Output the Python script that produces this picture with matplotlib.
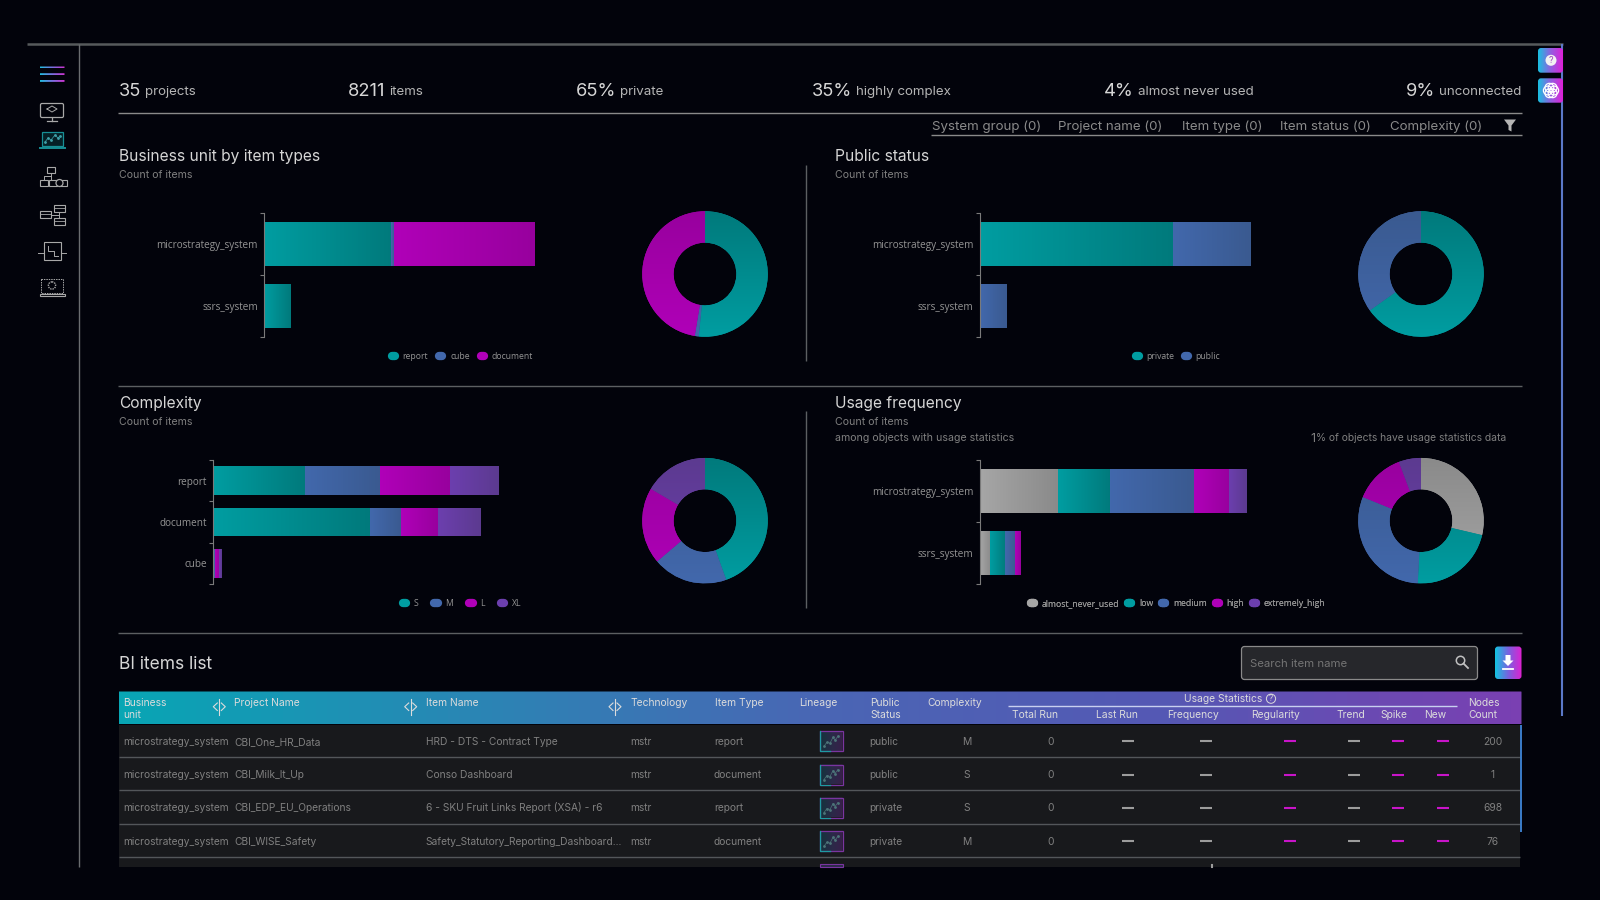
import matplotlib
matplotlib.use('Agg')
import matplotlib.pyplot as plt
import numpy as np
from matplotlib.colors import LinearSegmentedColormap
from matplotlib.lines import Line2D
from matplotlib.patches import Circle, FancyBboxPatch, Polygon, Rectangle

plt.rcParams['font.family'] = ['Inter', 'DejaVu Sans']

# data
kpi_values = ['35', '8211', '65%', '35%', '4%', '9%']
kpi_labels = ['projects', 'items', 'private', 'highly complex', 'almost never used', 'unconnected']
filter_names = ['System group (0)', 'Project name (0)', 'Item type (0)', 'Item status (0)', 'Complexity (0)']

systems = ['microstrategy_system', 'ssrs_system']
item_types = ['report', 'cube', 'document']
items_by_type = [[3505, 83, 3891], [731, 0, 0]]

public_names = ['private', 'public']
items_by_public = [[5350, 2130], [0, 731]]

type_cats = ['report', 'document', 'cube']
complexity_names = ['S', 'M', 'L', 'XL']
items_by_complexity = [[1347, 1104, 1019, 713], [2293, 464, 537, 615], [15, 15, 59, 30]]

usage_names = ['almost_never_used', 'low', 'medium', 'high', 'extremely_high']
items_by_usage = [[31, 21, 33, 14, 7], [4, 6, 4, 2, 0]]

table_business = ['microstrategy_system'] * 4
table_project = ['CBI_One_HR_Data', 'CBI_Milk_It_Up', 'CBI_EDP_EU_Operations', 'CBI_WISE_Safety']
table_item = ['HRD - DTS - Contract Type', 'Conso Dashboard', '6 - SKU Fruit Links Report (XSA) - r6',
              'Safety_Statutory_Reporting_Dashboard...']
table_tech = ['mstr'] * 4
table_type = ['report', 'document', 'report', 'document']
table_public = ['public', 'public', 'private', 'private']
table_complexity = ['M', 'S', 'S', 'M']
table_runs = ['0', '0', '0', '0']
table_nodes = ['200', '1', '698', '76']

BG = '#02030b'
TEAL = ('#009da1', '#007a7c')
BLUE = ('#4268ac', '#3a5a90')
MAGENTA = ('#b000b8', '#98009e')
PURPLE = ('#6c3fae', '#5c3a90')
GREY = ('#a6a6a6', '#8a8a8a')
TITLE_C = '#d6d6d6'
SUB_C = '#808080'
LABEL_C = '#949494'
CELL_C = '#808080'
LINE_C = '#5c5f62'

W, H = 1600, 900
fig = plt.figure(figsize=(16, 9), dpi=100, facecolor=BG)
ov = fig.add_axes([0, 0, 1, 1], zorder=0)
ov.set_axis_off()
ov.set_xlim(0, W)
ov.set_ylim(H, 0)


def pane(x0, y0, x1, y1):
    return fig.add_axes([x0 / W, 1 - y1 / H, (x1 - x0) / W, (y1 - y0) / H], facecolor='none', zorder=2)


def ramp(c1, c2):
    return LinearSegmentedColormap.from_list('r', [c1, c2])


def stacked(box, cats, names, rows, styles, bar_h):
    ax = pane(*box)
    rows = np.array(rows, dtype=float)
    left = np.zeros(len(cats))
    y = np.arange(len(cats))
    for i, name in enumerate(names):
        bars = ax.barh(y, rows[:, i], left=left, height=bar_h, color=styles[i][0], linewidth=0)
        for b in bars:
            if b.get_width() <= 0:
                continue
            e = b.get_bbox()
            im = ax.imshow(np.linspace(0, 1, 64).reshape(1, -1), extent=(e.x0, e.x1, e.y0, e.y1),
                           aspect='auto', cmap=ramp(*styles[i]), zorder=2)
            im.set_clip_path(b)
        left += rows[:, i]
    ax.set_xlim(0, left.max())
    ax.set_ylim(len(cats) - 0.5, -0.5)
    for s in ['top', 'right', 'bottom']:
        ax.spines[s].set_visible(False)
    ax.spines['left'].set_color('#7a7a7a')
    ax.spines['left'].set_linewidth(0.8)
    ax.set_xticks([])
    ax.set_yticks(np.arange(len(cats) + 1) - 0.5)
    ax.set_yticklabels([])
    ax.tick_params(axis='y', which='major', length=3, width=0.8, color='#7a7a7a')
    ax.set_yticks(y, minor=True)
    ax.set_yticklabels(cats, minor=True, fontsize=7.2, color=LABEL_C, family='Open Sans')
    ax.tick_params(axis='y', which='minor', length=0, pad=4.5)
    return ax


def donut(cx, cy, values, styles, d=125.5):
    ax = pane(cx - d / 2, cy - d / 2, cx + d / 2, cy + d / 2)
    wedges, _ = ax.pie(values, startangle=90, counterclock=False, radius=1, colors=[st[0] for st in styles],
                       wedgeprops=dict(width=0.5, linewidth=0))
    for w, st in zip(wedges, styles):
        im = ax.imshow(np.linspace(1, 0, 64).reshape(-1, 1), extent=(-1, 1, -1, 1), cmap=ramp(*st), zorder=2)
        im.set_clip_path(w)
    ax.set_xlim(-1, 1)
    ax.set_ylim(-1, 1)
    ax.set_aspect('equal')
    return ax


def pill_legend(cx, cy, names, styles, gap=1.0):
    handles = [Line2D([0], [0], color=st[0], lw=6, solid_capstyle='round') for st in styles]
    leg = ov.legend(handles, names, loc='center', bbox_to_anchor=(cx / W, 1 - cy / H), bbox_transform=fig.transFigure,
                    ncols=len(names), frameon=False, labelcolor=LABEL_C, handlelength=0.35,
                    handletextpad=0.9, columnspacing=gap, prop={'family': 'Open Sans', 'size': 6.2})
    return leg


def grad_box(x0, y0, x1, y1, colors, r=3, edge=None):
    p = FancyBboxPatch((x0 + r, y0 + r), x1 - x0 - 2 * r, y1 - y0 - 2 * r, boxstyle=f'round,pad={r},rounding_size={r}',
                       fc='none', ec=edge or 'none', lw=0.8, zorder=3)
    ov.add_patch(p)
    im = ov.imshow(np.linspace(0, 1, 128).reshape(1, -1), extent=(x0, x1, y1, y0), aspect='auto',
                   cmap=LinearSegmentedColormap.from_list('g', colors), zorder=2)
    im.set_clip_path(p)


def hline(y, x0=118, x1=1521.5, c=LINE_C, lw=1.0):
    ov.plot([x0, x1], [y, y], color=c, lw=lw, solid_capstyle='butt')


def vline(x, y0, y1, c=LINE_C, lw=1.0):
    ov.plot([x, x], [y0, y1], color=c, lw=lw, solid_capstyle='butt')


def txt(x, y, s, size=8, c=CELL_C, ha='left', family='Inter'):
    # baseline placed from the size so that a row of labels keeps one line
    return ov.text(x, y + 0.34 * size * 100 / 72, s, fontsize=size, color=c, ha=ha, va='baseline', family=family)


# frame
hline(44, 27, 1563, '#565a5c', 1.8)
vline(78.5, 44, 867, '#6a6d70', 1.0)
vline(1562, 44, 716, '#5b78c8', 1.5)

# kpi row
kpi_x = [118.5, 348, 575.5, 812, 1104, 1406]
fig.canvas.draw()
rend = fig.canvas.get_renderer()
for x, v, lab in zip(kpi_x, kpi_values, kpi_labels):
    t = txt(x, 89.5, v, 13.2, TITLE_C)
    bb = t.get_window_extent(rend)
    txt(bb.x1 + 4, 90.5, lab, 9.6, '#b5b5b5')
hline(113, c='#8a8a8a')
hline(135, 931, c='#8a8a8a')
for x, s in zip([931.5, 1058, 1181.5, 1280.5, 1390], filter_names):
    txt(x, 125.5, s, 9.6, '#8a8a8a')
ov.add_patch(Polygon([(1504, 119.5), (1516, 119.5), (1511.5, 125.5), (1511.5, 131.5), (1508.5, 130), (1508.5, 125.5)],
                     fc='#b5b5b5', ec='none'))

# chart headings
heads = [(119, 156, 'Business unit by item types'), (835, 156, 'Public status'),
         (119, 403, 'Complexity'), (835, 403, 'Usage frequency')]
for x, y, s in heads:
    txt(x, y, s, 11.2, TITLE_C)
    txt(x, y + 18, 'Count of items', 7.6, SUB_C)
txt(835, 437.5, 'among objects with usage statistics', 7.6, SUB_C)
txt(1310, 437.5, '1', 9, SUB_C)
txt(1316, 437.5, '% of objects have usage statistics data', 7.4, SUB_C)
vline(806, 165, 361)
vline(806, 411, 608)
hline(386)
hline(632.5)

# charts
type_st = [TEAL, BLUE, MAGENTA]
pub_st = [TEAL, BLUE]
cx_st = [TEAL, BLUE, MAGENTA, PURPLE]
use_st = [GREY, TEAL, BLUE, MAGENTA, PURPLE]
stacked((264, 213, 535, 337), systems, item_types, items_by_type, type_st, 0.7)
stacked((979.5, 213, 1250.5, 337), systems, public_names, items_by_public, pub_st, 0.7)
stacked((213, 460, 498.7, 584), type_cats, complexity_names, items_by_complexity, cx_st, 0.69)
stacked((979.5, 460, 1246.5, 584), systems, usage_names, items_by_usage, use_st, 0.7)
donut(705, 274, np.sum(items_by_type, axis=0), type_st)
donut(1421, 274, np.sum(items_by_public, axis=0), pub_st)
donut(705, 520.7, np.sum(items_by_complexity, axis=0), cx_st)
donut(1421, 520.7, np.sum(items_by_usage, axis=0), use_st)

# only one legend per axes call survives, so keep them as artists
legs = [pill_legend(462.5, 356.5, item_types, type_st, 1.3), pill_legend(1178, 356.5, public_names, pub_st, 1.2),
        pill_legend(462, 603.5, complexity_names, cx_st, 1.9), pill_legend(1178, 603.5, usage_names, use_st, 1.05)]
for lg in legs:
    ov.add_artist(lg)

# table area
txt(119, 663, 'BI items list', 12.5, TITLE_C)
ov.add_patch(FancyBboxPatch((1244.5, 649.5), 230, 27, boxstyle='round,pad=3,rounding_size=3', fc='#26272b', ec='#8a8a8a', lw=0.9))
txt(1250, 663, 'Search item name', 8.2, '#747474')
ov.add_patch(Circle((1460.5, 660.5), 4.2, fc='none', ec='#c0c0c0', lw=1.1))
ov.plot([1463.5, 1468], [663.5, 668], color='#c0c0c0', lw=1.3)
grad_box(1495, 646.5, 1521.5, 679, ['#12c4e0', '#7a60e0', '#e020d0'])
ov.add_patch(Polygon([(1505.5, 655), (1510.5, 655), (1510.5, 660.5), (1513.5, 660.5), (1508, 666), (1502.5, 660.5), (1505.5, 660.5)], fc='white', ec='none', zorder=4))
ov.plot([1503, 1513], [669, 669], color='white', lw=1.3, zorder=4)

# table header
grad_box(118.5, 691.5, 1521.5, 724.5, ['#08a6b4', '#2a86b4', '#4a66b4', '#5558b4', '#7a40b2'], r=0.5)
hc = '#dcdcdc'
head_cols = [(123, ['Business', 'unit']), (234.5, ['Project Name']), (426, ['Item Name']), (630, ['Technology']),
             (715, ['Item Type']), (799.5, ['Lineage']), (870, ['Public', 'Status']), (927.5, ['Complexity']),
             (1468.5, ['Nodes', 'Count'])]
for x, lines in head_cols:
    for j, s in enumerate(lines):
        txt(x, 702.5 + 12 * j, s, 7.4, hc)
sub_cols = [(1011.5, 'Total Run'), (1096.5, 'Last Run'), (1167.5, 'Frequency'), (1251.5, 'Regularity'),
            (1336, 'Trend'), (1380, 'Spike'), (1424.5, 'New')]
for x, s in sub_cols:
    txt(x, 714.5, s, 7.4, hc)
txt(1223.5, 698.5, 'Usage Statistics', 7.4, hc, ha='center')
ov.add_patch(Circle((1271, 698.7), 4.6, fc='none', ec=hc, lw=0.7, zorder=4))
txt(1271, 698.7, '?', 5.8, hc, ha='center')
hline(706.3, 1008, 1457, '#c8d0f0', 1.0)
for x in [219.3, 410.7, 615]:
    ov.plot([x, x], [699, 714.5], color=hc, lw=0.8, zorder=4)
    ov.plot([x - 2, x - 6, x - 2], [703, 706.7, 710.5], color=hc, lw=0.8, zorder=4)
    ov.plot([x + 2, x + 6, x + 2], [703, 706.7, 710.5], color=hc, lw=0.8, zorder=4)

# table rows
ov.add_patch(Rectangle((118.5, 724.5), 1401.5, 142.5, fc='#18191c', ec='none', zorder=0.5))
for y in [757.3, 790.3, 823.7, 857.3]:
    hline(y, 118.5, 1520, '#53565a', 1.0)
row_y = [741.2, 774.5, 807.5, 841.2]
row_cols = [(123, table_business), (234, table_project), (425.5, table_item), (630, table_tech),
            (714, table_type), (869, table_public)]
for x, col in row_cols:
    for y, s in zip(row_y, col):
        txt(x, y, s, 7.35, CELL_C)
for y, cplx, run, nodes in zip(row_y, table_complexity, table_runs, table_nodes):
    txt(966.3, y, cplx, 7.4, CELL_C, ha='center')
    txt(1050.3, y, run, 7.4, CELL_C, ha='center')
    txt(1492.5, y, nodes, 7.4, CELL_C, ha='center')
    for x, c in [(1127.7, '#9c9c9c'), (1205.6, '#9c9c9c'), (1290, '#c814c8'), (1353.7, '#9c9c9c'),
                 (1398, '#c814c8'), (1442.5, '#c814c8')]:
        ov.plot([x - 6, x + 6], [y, y], color=c, lw=1.5, solid_capstyle='butt')
    # lineage icon
    grad_box(820, y - 10, 842.5, y + 10, ['#12343c', '#2a2a48', '#38204a'], r=0.3, edge=None)
    ov.add_patch(Rectangle((820, y - 10), 22.5, 20, fc='none', ec='#7a35a0', lw=0.9, zorder=3))
    ov.plot([820, 820, 830], [y - 10, y + 10, y + 10], color='#1f9aa2', lw=0.9, zorder=3)
    ov.plot([824, 827, 830, 833, 835, 838], [y + 5, y + 1, y + 2, y - 4, y - 1, y - 5], color='#4c7478', lw=0.5,
            marker='o', ms=1.0, zorder=4)
ov.add_patch(Rectangle((820, 864.3), 22.5, 2.7, fc='#2a2a48', ec='#7a35a0', lw=0.8, zorder=3))
ov.plot([1211.7, 1211.7], [865, 867], color='#9c9c9c', lw=1.5)
vline(1520.5, 724.5, 832, '#3f86d8', 1.3)

# side buttons
grad_box(1538, 48, 1563, 72.7, ['#18c0e0', '#9060e0', '#e020d8'])
ov.add_patch(Circle((1551, 60.3), 5.5, fc='#f2f2f2', ec='none', zorder=4))
txt(1551, 60.3, '?', 6.5, '#a040c0', ha='center').set_zorder(5)
grad_box(1538, 78.3, 1563, 102.7, ['#18c0e0', '#9060e0', '#e020d8'])
for a in [0, 60, 120]:
    dx, dy = 3.2 * np.cos(np.radians(a)), 3.2 * np.sin(np.radians(a))
    ov.add_patch(Circle((1551 + dx, 90.5 + dy), 4.4, fc='none', ec='white', lw=0.9, zorder=4))
    ov.add_patch(Circle((1551 - dx, 90.5 - dy), 4.4, fc='none', ec='white', lw=0.9, zorder=4))

# sidebar icons
grad_box(40, 66.5, 64.5, 68.4, ['#20c0e0', '#7a70e0', '#d030d0'], r=0.2)
grad_box(40, 73.2, 64.5, 75.1, ['#20c0e0', '#7a70e0', '#d030d0'], r=0.2)
grad_box(40, 80, 64.5, 81.9, ['#20c0e0', '#7a70e0', '#d030d0'], r=0.2)
ic = '#a8a8a8'
ov.add_patch(FancyBboxPatch((41, 104), 22, 13, boxstyle='round,pad=0.5,rounding_size=1.5', fc='none', ec=ic, lw=0.9))
ov.plot([47, 57], [121, 121], color=ic, lw=0.9)
ov.plot([52, 52], [118, 121], color=ic, lw=0.9)
ov.plot([47, 52, 57, 52, 47], [109, 106, 109, 112, 109], color=ic, lw=0.7)
ov.add_patch(Rectangle((41.5, 132), 21, 13.5, fc='#052026', ec='#178f95', lw=0.9))
ov.plot([40, 65], [147.5, 147.5], color='#178f95', lw=1.4)
ov.plot([45, 48, 51, 55, 58, 60], [142, 138, 140, 135, 138, 136], color='#3fa0a8', lw=0.5, marker='o', ms=1.0)
for bx, by in [(47, 167), (40, 180), (49, 180), (59, 180)]:
    ov.add_patch(Rectangle((bx, by), 8, 5.5, fc='none', ec=ic, lw=0.8))
ov.plot([51, 51, 44, 44], [172.5, 176, 176, 180], color=ic, lw=0.7)
ov.plot([51, 51], [176, 180], color=ic, lw=0.7)
ov.add_patch(Circle((59.5, 183), 3.5, fc=BG, ec=ic, lw=0.9, zorder=3))
for bx, by, bw, bh in [(54, 205, 10.5, 7), (40, 211, 10.5, 7), (54, 218, 10.5, 7)]:
    ov.add_patch(Rectangle((bx, by), bw, bh, fc='none', ec=ic, lw=0.8))
    ov.plot([bx, bx + bw], [by + 2.8, by + 2.8], color=ic, lw=0.6)
ov.plot([59, 59], [212, 218], color=ic, lw=0.7)
ov.plot([50.5, 59], [214.5, 214.5], color=ic, lw=0.7)
ov.add_patch(Rectangle((44, 242), 17, 18, fc='none', ec=ic, lw=0.8))
ov.plot([38, 44], [253, 253], color=ic, lw=0.7)
ov.plot([61, 66], [253, 253], color=ic, lw=0.7)
ov.plot([48, 48, 54, 54, 58], [246, 251, 251, 256, 256], color=ic, lw=0.7)
ov.add_patch(Rectangle((41, 279), 22, 13.5, fc='none', ec=ic, lw=0.7, ls=(0, (1.5, 1))))
ov.add_patch(Rectangle((39.5, 293.5), 25.5, 2.5, fc='none', ec=ic, lw=0.8))
ov.add_patch(Circle((52, 285.5), 3.6, fc='none', ec=ic, lw=1.0, ls=(0, (1, 0.7))))

ov.set_xlim(0, W)
ov.set_ylim(H, 0)
ov.set_aspect('auto')

fig.savefig('out.png', dpi=100, facecolor=BG)
